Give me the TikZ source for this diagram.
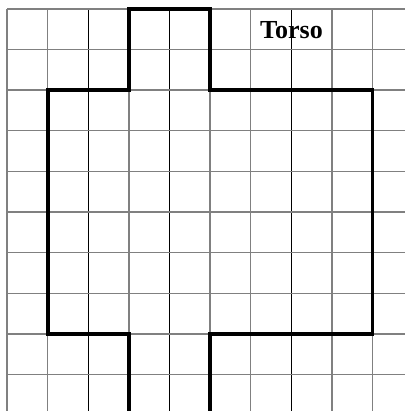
\documentclass[tikz,border=0pt]{standalone}
\usepackage{fontspec}
\setmainfont{Liberation Serif}
\begin{document}
\begin{tikzpicture}[x=1pt,y=-1pt,
  gridline/.style={draw=black!50,line width=1.4pt},
  darkline/.style={draw=black,line width=0.9pt},
  outline/.style={draw=black,line width=3.8pt,line join=miter,line cap=butt},
  label/.style={font=\fontsize{26}{30}\selectfont\bfseries,inner sep=0pt,anchor=base}]
\useasboundingbox[fill=white] (0,0) rectangle (405,411);
\def\cs{40.6}
\node[label] (title) at (291.5,38.3) {Torso};
\foreach \i in {0,1,3,5,6,8,9} {
  \draw[gridline] ({7+\cs*\i},9) -- ({7+\cs*\i},411);
}
\foreach \i in {2,4,7} {
  \draw[darkline] ({7+\cs*\i},9) -- ({7+\cs*\i},411);
}
\foreach \j in {0,...,9} {
  \draw[gridline] (7,{9+\cs*\j}) -- (405,{9+\cs*\j});
}
\coordinate (a) at ({7+\cs*3},411);
\coordinate (b) at ({7+\cs*5},411);
\draw[outline] (a) -- ({7+\cs*3},{9+\cs*8}) -- ({7+\cs*1},{9+\cs*8})
  -- ({7+\cs*1},{9+\cs*2}) -- ({7+\cs*3},{9+\cs*2}) -- ({7+\cs*3},9)
  -- ({7+\cs*5},9) -- ({7+\cs*5},{9+\cs*2}) -- ({7+\cs*9},{9+\cs*2})
  -- ({7+\cs*9},{9+\cs*8}) -- ({7+\cs*5},{9+\cs*8}) -- (b);
\end{tikzpicture}
\end{document}
